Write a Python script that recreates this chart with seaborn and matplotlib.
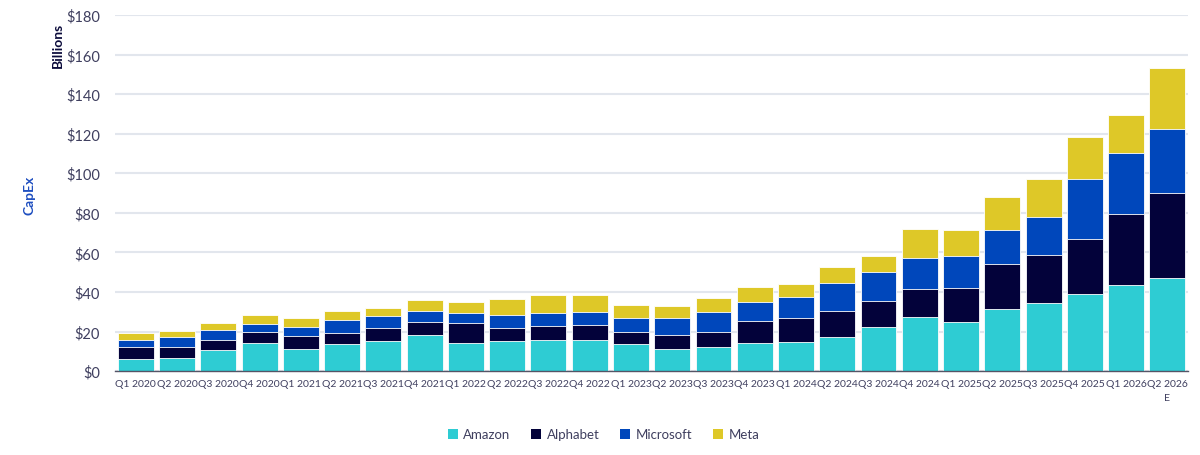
import numpy as np
import pandas as pd
import matplotlib
matplotlib.use("Agg")
import matplotlib.pyplot as plt
from matplotlib.patches import Patch
import seaborn as sns

# Datos (miles de millones USD, CapEx trimestral)
quarters = ["Q1 2020", "Q2 2020", "Q3 2020", "Q4 2020", "Q1 2021", "Q2 2021", "Q3 2021",
            "Q4 2021", "Q1 2022", "Q2 2022", "Q3 2022", "Q4 2022", "Q1 2023", "Q2 2023",
            "Q3 2023", "Q4 2023", "Q1 2024", "Q2 2024", "Q3 2024", "Q4 2024", "Q1 2025",
            "Q2 2025", "Q3 2025", "Q4 2025", "Q1 2026", "Q2 2026\nE"]
amazon = [6.2, 6.7, 10.6, 14.3, 11.4, 13.6, 15.2, 18.2, 14.2, 15.0, 15.6, 15.8, 13.8, 11.1,
          12.1, 14.3, 14.5, 17.2, 22.1, 27.3, 24.6, 31.6, 34.5, 39.1, 43.6, 47.1]
alphabet = [5.9, 5.4, 5.2, 5.4, 6.1, 5.6, 6.5, 6.5, 9.9, 6.7, 7.1, 7.5, 6.1, 6.9,
            7.8, 11.0, 12.1, 13.1, 13.3, 14.4, 17.3, 22.5, 24.1, 27.9, 35.9, 43.0]
microsoft = [3.7, 4.9, 5.1, 4.2, 4.7, 6.4, 6.2, 5.8, 5.4, 6.9, 6.6, 6.7, 7.0, 8.9,
             10.2, 9.5, 10.9, 14.0, 14.8, 15.7, 16.5, 17.3, 19.5, 30.0, 30.9, 32.1]
meta = [3.7, 3.4, 3.6, 4.5, 4.6, 4.7, 4.1, 5.4, 5.2, 7.6, 9.4, 8.7, 6.6, 6.1,
        6.6, 7.8, 6.4, 8.2, 8.2, 14.3, 13.0, 16.5, 18.9, 21.4, 18.9, 30.8]

companies = ["Amazon", "Alphabet", "Microsoft", "Meta"]
colors = ["#2ECCD3", "#03023A", "#0047BB", "#DEC828"]

df = pd.DataFrame({"quarter": quarters, "Amazon": amazon, "Alphabet": alphabet,
                   "Microsoft": microsoft, "Meta": meta})
cum = df[companies].cumsum(axis=1)

sns.set_style("white")
plt.rcParams["font.family"] = ["Lato", "DejaVu Sans"]
text_col = "#3f3f5f"

fig = plt.figure(figsize=(12, 4.56), dpi=100)
ax = fig.add_axes([0.096, 0.184, 0.894, 0.781])

# barras apiladas: se dibuja del total hacia abajo
for name, col in reversed(list(zip(companies, colors))):
    sns.barplot(x=df["quarter"], y=cum[name], color=col, saturation=1, width=0.87,
                edgecolor="white", linewidth=0.6, ax=ax)

ax.set_ylim(0, 180)
ax.set_xlim(-0.5, len(quarters) - 0.5)
ax.set_yticks(np.arange(0, 181, 20))
ax.set_yticklabels([f"${v}" for v in range(0, 181, 20)], fontsize=10.5, color=text_col)
ax.yaxis.grid(True, color="#e2e6ed", linewidth=1.5)
ax.set_axisbelow(True)
ax.tick_params(axis="y", length=0, pad=11)

ax.set_xticks(np.arange(len(quarters)))
ax.set_xticklabels(quarters, fontsize=7.5, color=text_col, linespacing=1.6)
ax.tick_params(axis="x", which="major", length=0, pad=6)
ax.set_xticks(np.arange(len(quarters) + 1) - 0.5, minor=True)
ax.tick_params(axis="x", which="minor", length=4, color="#555566", width=1)
ax.set_xlabel("")
ax.set_ylabel("")

for s in ["top", "right", "left"]:
    ax.spines[s].set_visible(False)
ax.spines["bottom"].set_color("#555566")
ax.spines["bottom"].set_linewidth(1)

fig.text(0.048, 0.90, "Billions", rotation=90, ha="center", va="center",
         fontsize=10, fontweight="bold", color="#0b0b3b")
fig.text(0.025, 0.572, "CapEx", rotation=90, ha="center", va="center",
         fontsize=10, fontweight="bold", color="#1f4fc0")

handles = [Patch(facecolor=c, edgecolor="none", label=n) for n, c in zip(companies, colors)]
fig.legend(handles=handles, loc="center", bbox_to_anchor=(0.503, 0.045), ncol=4,
           frameon=False, fontsize=9.5, handlelength=0.75, handleheight=0.75,
           handletextpad=0.4, columnspacing=1.6, labelcolor=text_col)

fig.savefig("out.png", dpi=100)
